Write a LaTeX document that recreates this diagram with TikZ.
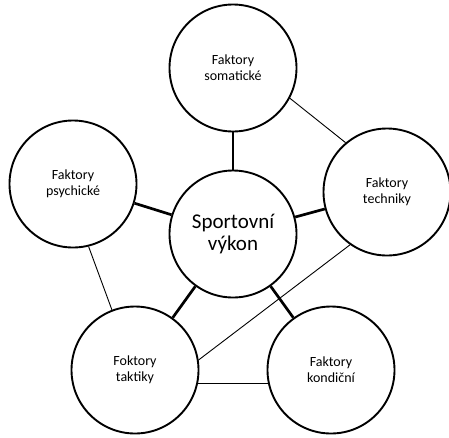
\documentclass[tikz,border=0pt]{standalone}
\usepackage{fontspec}
\setmainfont{Carlito}
\begin{document}
\begin{tikzpicture}[x=1pt,y=-1pt,
  fac/.style={circle,draw=black,line width=1.9pt,minimum size=127pt,inner sep=0pt,align=center,font=\fontsize{14}{16}\selectfont},
  core/.style={fac,font=\fontsize{21}{22}\selectfont},
  thick link/.style={line width=2.7pt},
  thin link/.style={line width=0.9pt}]
\useasboundingbox (0,0) rectangle (449,437);
\node[fac] (S) at (233,68) {Faktory\\somatické};
\node[core] (C) at (233,234) {Sportovní\\výkon};
\node[fac] (T) at (387,192) {Faktory\\techniky};
\node[fac] (P) at (73,184) {Faktory\\psychické};
\node[fac] (L) at (135,370) {Foktory\\taktiky};
\node[fac] (K) at (331,370) {Faktory\\kondiční};
\draw[thick link] (C) -- (S);
\draw[thick link] (C) -- (T);
\draw[thick link] (C) -- (P);
\draw[thick link] (C) -- (L);
\draw[thick link] (C) -- (K);
\draw[thin link] (S.-28) -- (T.130);
\draw[thin link] (P.-76) -- (L.111);
\draw[thin link] (T.235) -- (L.9);
\draw[thin link] (L.-12.6) -- (K.192.6);
\end{tikzpicture}
\end{document}
